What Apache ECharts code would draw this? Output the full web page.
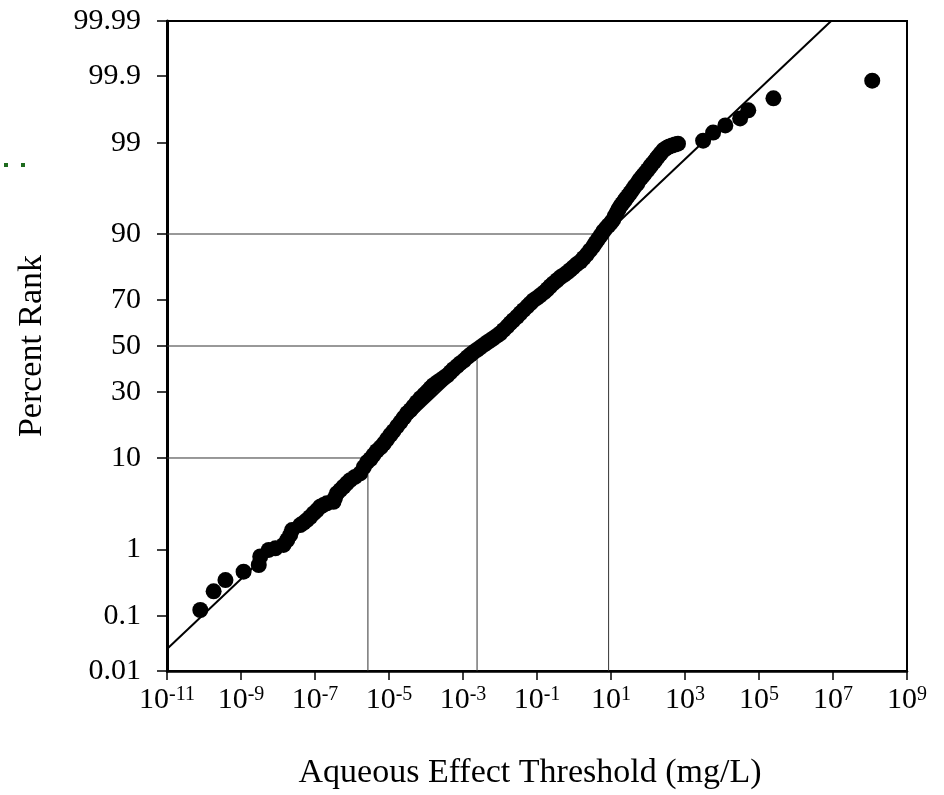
<!DOCTYPE html>
<html>
<head>
<meta charset="utf-8">
<title>Percent Rank vs Aqueous Effect Threshold</title>
<script src="https://cdn.jsdelivr.net/npm/echarts@6/dist/echarts.min.js"></script>
<style>
  html, body { margin: 0; padding: 0; background: #fff; }
  #probChart { width: 944px; height: 795px; }
</style>
</head>
<body>
<div id="probChart"></div>
<script>
// log10 of threshold (mg/L) and percent rank
const log10Conc = [
  -10.10, -9.74, -9.42, -8.93, -8.52, -8.48, -8.25, -8.07, -7.85, -7.75,
  -7.67, -7.62, -7.40, -7.22, -7.04, -6.86, -6.68, -6.50, -6.41, -6.23,
  -6.05, -5.78, -5.59, -5.42, -5.23, -5.05, -4.88, -4.69, -4.51, -4.34,
  -4.15, -3.96, -3.80, -3.61, -3.42, -3.26, -3.07, -2.88, -2.72, -2.53,
  -2.34, -2.18, -1.99, -1.80, -1.64, -1.45, -1.26, -1.10, -0.91, -0.72,
  -0.56, -0.37, -0.18, -0.02, 0.17, 0.35, 0.52, 0.65, 0.79, 0.93,
  1.06, 1.16, 1.25, 1.35, 1.46, 1.58, 1.71, 1.82, 1.92, 2.06,
  2.17, 2.27, 2.41, 2.52, 2.65, 2.81, 3.49, 3.76, 4.09, 4.49,
  4.71, 5.39, 8.06,
  // more points inside the dense band
  -7.31, -7.13, -6.95, -6.77, -6.46, -6.32, -6.14, -5.92,
  -5.68, -5.50, -5.33, -5.14, -4.96, -4.78, -4.60, -4.42, -4.25, -4.05,
  -3.88, -3.70, -3.52, -3.34, -3.16, -2.97, -2.80, -2.62, -2.43, -2.26,
  -2.08, -1.90, -1.72, -1.54, -1.36, -1.18, -1.00, -0.81, -0.64, -0.46,
  -0.27, -0.10, 0.07, 0.26, 0.43, 0.58, 0.72, 0.86, 1.00, 1.11,
  1.20, 1.30, 1.40, 1.52, 1.64, 1.76, 1.87, 1.99, 2.11, 2.22,
  2.34, 2.46, 2.58, 2.73
]
const percentRank = [
  0.126, 0.25, 0.37, 0.49, 0.61, 0.80, 0.98, 1.03, 1.14, 1.32,
  1.53, 1.76, 2.02, 2.32, 2.77, 3.29, 3.59, 3.73, 4.58, 5.36,
  6.24, 7.24, 9.2, 10.6, 12.3, 14.3, 16.5, 19.2, 22.1, 24.5,
  27.5, 30.2, 32.7, 34.8, 36.9, 39.5, 42.2, 44.9, 47.1, 49.4,
  51.7, 53.5, 55.8, 58.9, 61.6, 64.6, 67.5, 69.9, 71.9, 74.2,
  76.3, 78.4, 80.0, 81.6, 83.3, 85.3, 87.3, 88.9, 90.5, 91.6,
  92.6, 93.7, 94.5, 95.1, 95.7, 96.3, 96.85, 97.3, 97.6, 98.0,
  98.26, 98.49, 98.74, 98.84, 98.91, 98.97, 99.06, 99.27, 99.42, 99.54,
  99.65, 99.77, 99.88,
  2.15, 2.52, 3.0, 3.45, 4.1, 4.95, 5.8, 6.7,
  8.3, 9.8, 11.5, 13.2, 15.5, 17.9, 20.6, 23.2, 26.0, 28.9,
  31.5, 33.8, 35.8, 38.2, 40.9, 43.5, 46.0, 48.3, 50.6, 52.6,
  54.7, 57.3, 60.3, 63.1, 66.0, 68.7, 70.9, 73.0, 75.3, 77.4,
  79.2, 80.8, 82.5, 84.3, 86.3, 88.1, 89.7, 91.1, 92.1, 93.2,
  94.1, 94.8, 95.4, 96.0, 96.6, 97.1, 97.45, 97.8, 98.13, 98.38,
  98.62, 98.79, 98.88, 98.94
]

// fitted line end points
const fitLog = [-11, 6.95]
const fitPct = [0.0264, 99.99]

// 10th, 50th, 90th percentile drop lines
const dropPct = [10, 50, 90]
const dropLog = [-5.57, -2.62, 0.935]

// axis ticks
const xTickExp = [-11, -9, -7, -5, -3, -1, 1, 3, 5, 7, 9]
const yTickPct = [0.01, 0.1, 1, 10, 30, 50, 70, 90, 99, 99.9, 99.99]
const yTickLabels = ['0.01', '0.1', '1', '10', '30', '50', '70', '90', '99', '99.9', '99.99']

// inverse normal cdf (Acklam) -> probability axis
function probit(p) {
  const a = [-3.969683028665376e+01, 2.209460984245205e+02, -2.759285104469687e+02, 1.383577518672690e+02, -3.066479806614716e+01, 2.506628277459239e+00]
  const b = [-5.447609879822406e+01, 1.615858368580409e+02, -1.556989798598866e+02, 6.680131188771972e+01, -1.328068155288572e+01]
  const c = [-7.784894002430293e-03, -3.223964580411365e-01, -2.400758277161838e+00, -2.549671010115147e+00, 4.374664141464968e+00, 2.938163982698783e+00]
  const d = [7.784695709041462e-03, 3.224671290700398e-01, 2.445134137142996e+00, 3.754408661907416e+00]
  const plow = 0.02425
  let q, r
  if (p < plow) {
    q = Math.sqrt(-2 * Math.log(p))
    return (((((c[0] * q + c[1]) * q + c[2]) * q + c[3]) * q + c[4]) * q + c[5]) /
      ((((d[0] * q + d[1]) * q + d[2]) * q + d[3]) * q + 1)
  }
  if (p > 1 - plow) {
    q = Math.sqrt(-2 * Math.log(1 - p))
    return -(((((c[0] * q + c[1]) * q + c[2]) * q + c[3]) * q + c[4]) * q + c[5]) /
      ((((d[0] * q + d[1]) * q + d[2]) * q + d[3]) * q + 1)
  }
  q = p - 0.5
  r = q * q
  return (((((a[0] * r + a[1]) * r + a[2]) * r + a[3]) * r + a[4]) * r + a[5]) * q /
    (((((b[0] * r + b[1]) * r + b[2]) * r + b[3]) * r + b[4]) * r + 1)
}
const zOf = pct => probit(pct / 100)

const zMax = -probit(0.0001)
const yTickZ = yTickPct.map(p => Math.max(-zMax, Math.min(zMax, zOf(p))))

const font = "'Liberation Serif', 'Times New Roman', serif"

const scatterData = log10Conc.map((x, i) => [x, zOf(percentRank[i])])
const fitData = fitLog.map((x, i) => [x, zOf(fitPct[i])])

const dropSeries = dropPct.map((p, i) => ({
  type: 'line',
  symbol: 'none',
  silent: true,
  z: 1,
  lineStyle: { color: '#333', width: 1 },
  data: [[-11, zOf(p)], [dropLog[i], zOf(p)], [dropLog[i], -zMax]]
}))

const option = {
  animation: false,
  backgroundColor: '#fff',
  textStyle: { fontFamily: font, color: '#000' },
  grid: {
    left: 167, top: 21, width: 740, height: 651,
    show: true, borderColor: '#000', borderWidth: 2
  },
  xAxis: {
    type: 'value',
    min: -11,
    max: 9,
    name: 'Aqueous Effect Threshold (mg/L)',
    nameLocation: 'middle',
    nameGap: 85,
    nameTextStyle: { fontFamily: font, fontSize: 34, color: '#000', padding: [0, 14, 0, 0] },
    axisLine: { onZero: false, lineStyle: { color: '#000', width: 2.5 } },
    axisTick: { customValues: xTickExp, length: 9, lineStyle: { color: '#000', width: 1.5 } },
    axisLabel: {
      customValues: xTickExp,
      margin: 14,
      formatter: v => '{b|10}{s|' + v + '}',
      rich: {
        b: { fontFamily: font, fontSize: 30, color: '#000' },
        s: { fontFamily: font, fontSize: 20, color: '#000', verticalAlign: 'top' }
      }
    },
    splitLine: { show: false }
  },
  yAxis: {
    type: 'value',
    min: -zMax,
    max: zMax,
    name: 'Percent Rank',
    nameLocation: 'middle',
    nameGap: 118,
    nameTextStyle: { fontFamily: font, fontSize: 34, color: '#000' },
    axisLine: { onZero: false, lineStyle: { color: '#000', width: 3 } },
    axisTick: { customValues: yTickZ, length: 10, lineStyle: { color: '#000', width: 1.5 } },
    axisLabel: {
      customValues: yTickZ,
      margin: 26,
      fontFamily: font,
      fontSize: 30,
      color: '#000',
      formatter: v => {
        let best = 0
        yTickZ.forEach((t, i) => { if (Math.abs(t - v) < Math.abs(yTickZ[best] - v)) best = i })
        return yTickLabels[best]
      }
    },
    splitLine: { show: false }
  },
  // two stray green dots left of the axis in the original
  graphic: [
    { type: 'rect', left: 4, top: 163, shape: { width: 4, height: 4 }, style: { fill: '#1e6b1e' } },
    { type: 'rect', left: 21, top: 163, shape: { width: 4, height: 4 }, style: { fill: '#1e6b1e' } }
  ],
  series: [
    ...dropSeries,
    {
      type: 'line',
      symbol: 'none',
      silent: true,
      z: 2,
      lineStyle: { color: '#000', width: 2 },
      data: fitData
    },
    {
      type: 'scatter',
      symbol: 'circle',
      symbolSize: 16,
      z: 3,
      itemStyle: { color: '#000', opacity: 1 },
      data: scatterData
    }
  ]
}

const chart = echarts.init(document.getElementById('probChart'))
chart.setOption(option)
</script>
</body>
</html>
